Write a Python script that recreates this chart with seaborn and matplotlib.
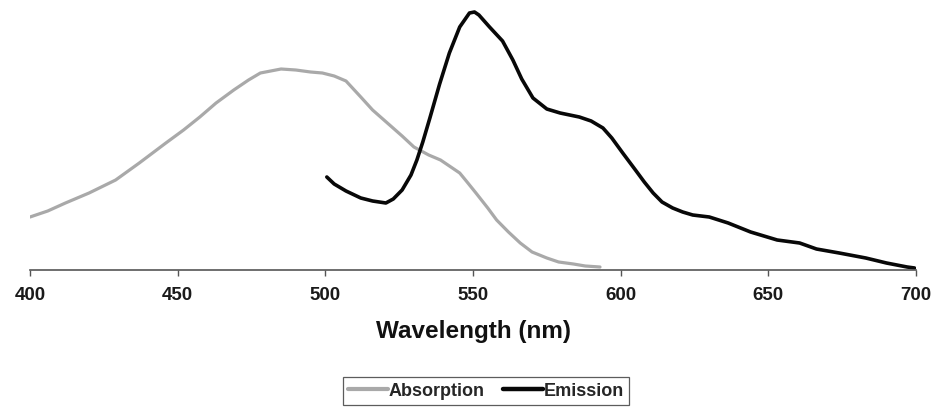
#!/usr/bin/env python3
"""Absorption / emission spectra, redrawn from a scanned figure."""

import matplotlib

matplotlib.use("Agg")
import matplotlib.pyplot as plt
import pandas as pd
import seaborn as sns

# values (arbitrary intensity units)
abs_nm = [400, 406, 412, 420, 429, 437, 446, 452, 457.5, 463, 469, 474, 478, 485,
          490, 495, 499, 503, 507, 512, 516, 521, 526, 530, 535, 539, 542, 545.5,
          548, 551, 555, 558, 562, 566, 570, 575, 579, 584, 588, 593]
abs_val = [53, 59, 67, 77, 90, 107, 127, 140, 153, 167, 180, 190, 197, 201,
           200, 198, 197, 194, 189, 173, 160, 147, 134, 123, 115, 110, 104, 97,
           88, 77, 62, 50, 38, 27, 18, 12, 8, 6, 4, 3]

em_nm = [500.5, 503, 507, 512, 516, 520.5, 523, 526, 529, 531, 533, 535.4, 538.7,
         542, 545.5, 548.8, 550.5, 552, 555.6, 560, 563.5, 566.5, 570.3, 575,
         579.5, 586, 590, 594, 597, 600.7, 605, 608, 611, 614, 617.6, 621, 624.4,
         630, 636.4, 644, 653, 660.6, 666.3, 674, 683, 690, 697, 699.5]
em_val = [93, 86, 79, 72, 69, 67, 71, 80, 95, 110, 128, 152, 186,
          217, 243, 257, 258, 255, 243, 229, 210, 191, 172, 161,
          157, 153, 149, 142, 132, 117, 100, 88, 77, 68, 62, 58, 55,
          53, 47, 38, 30, 27, 21, 17, 12, 7, 3, 2]

xticks = [400, 450, 500, 550, 600, 650, 700]

df = pd.concat([
    pd.DataFrame({"nm": abs_nm, "val": abs_val, "series": "Absorption"}),
    pd.DataFrame({"nm": em_nm, "val": em_val, "series": "Emission"}),
])

sns.set_theme(style="white")
plt.rcParams["font.family"] = ["Liberation Sans", "DejaVu Sans"]
plt.rcParams["font.weight"] = "bold"

fig = plt.figure(figsize=(9.34, 4.13), dpi=100)
ax = fig.add_axes([30 / 934, 143 / 413, 886 / 934, 265 / 413])

palette = {"Absorption": "#a9a9a9", "Emission": "#080808"}
sns.lineplot(data=df, x="nm", y="val", hue="series", palette=palette,
             sort=False, estimator=None, ax=ax, legend=False)
for line, lw in zip(ax.lines, [2.3, 2.6]):
    line.set_linewidth(lw)
    line.set_solid_joinstyle("round")

ax.set_xlim(400, 700)
ax.set_ylim(0, 265)
ax.set_yticks([])
ax.set_xticks(xticks)
ax.set_xticklabels([str(t) for t in xticks], fontsize=13.5, fontweight="bold",
                   color="#1a1a1a")
ax.tick_params(axis="x", bottom=True, direction="out", length=4, width=1,
               color="#555555", pad=8)
for side in ["top", "right", "left"]:
    ax.spines[side].set_visible(False)
ax.spines["bottom"].set_color("#555555")
ax.spines["bottom"].set_linewidth(1.2)
ax.set_ylabel("")
ax.set_xlabel("Wavelength (nm)", fontsize=17.5, fontweight="bold",
              color="#111111", labelpad=12)

handles = [plt.Line2D([], [], color=palette["Absorption"], lw=3.0),
           plt.Line2D([], [], color=palette["Emission"], lw=3.2)]
leg = fig.legend(handles, ["Absorption", "Emission"], loc="center",
                 bbox_to_anchor=(486 / 934, 1 - 391 / 413), ncol=2,
                 frameon=True, fancybox=False, handlelength=2.2,
                 handletextpad=0.05, columnspacing=1.0, borderpad=0.3,
                 borderaxespad=0, prop={"size": 13, "weight": "bold"})
leg.get_frame().set_edgecolor("#333333")
leg.get_frame().set_linewidth(0.9)

fig.savefig("out.png", dpi=100)
